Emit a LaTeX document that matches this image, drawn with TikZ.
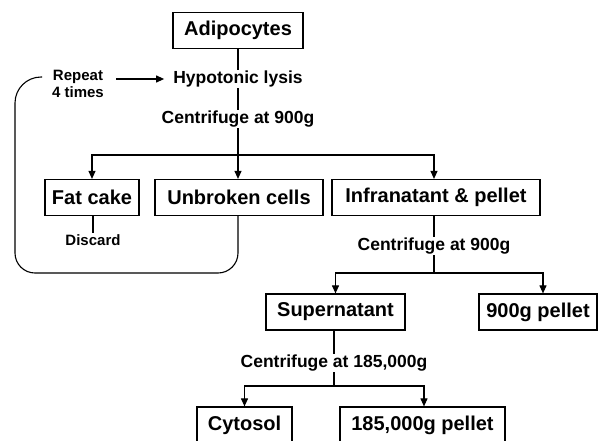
\documentclass[tikz,border=0pt]{standalone}
\usepackage{fontspec}
\setmainfont{Liberation Sans}
\usetikzlibrary{arrows.meta}

\begin{document}
\begin{tikzpicture}[x=1pt,y=-1pt,
    procbox/.style={draw,line width=1.2pt,minimum height=36pt,inner xsep=0pt,
      font=\fontsize{20}{24}\selectfont\bfseries},
    steplabel/.style={inner sep=1pt,font=\fontsize{17.5}{21}\selectfont\bfseries},
    smalllabel/.style={inner sep=1pt,align=center,font=\fontsize{15}{17}\selectfont\bfseries},
    flow/.style={line width=1.1pt},
    tip/.style={-{Triangle[length=8pt,width=7pt]}}]
    \useasboundingbox (0,0) rectangle (598,440);
    \clip (0,0) rectangle (598,440);
    % boxes
    \node[procbox,minimum width=130pt] (adipo) at (238,30.5) {Adipocytes};
    \node[procbox,minimum width=94pt] (fatcake) at (92,197.5) {Fat cake};
    \node[procbox,minimum width=168pt] (unbroken) at (239,197.5) {Unbroken cells};
    \node[procbox,minimum width=208pt] (infra) at (436,197.5) {Infranatant \& pellet};
    \node[procbox,minimum width=139pt] (super) at (335.5,312) {Supernatant};
    \node[procbox,minimum width=118pt] (p900) at (538,312) {900g pellet};
    \node[procbox,minimum width=95pt] (cytosol) at (244.5,425) {Cytosol};
    \node[procbox,minimum width=165pt] (p185) at (422.5,425) {185,000g pellet};
    % step labels
    \node[steplabel] (lysis) at (238,79) {Hypotonic lysis};
    \node[steplabel] (cent1) at (238,119) {Centrifuge at 900g};
    \node[steplabel] (cent2) at (434,246) {Centrifuge at 900g};
    \node[steplabel] (cent3) at (334,363) {Centrifuge at 185,000g};
    \node[smalllabel] (repeat) at (78,84) {Repeat\\4 times};
    \node[smalllabel] (discard) at (93,240) {Discard};
    % branch points
    \coordinate (split1) at (238,155);
    \coordinate (split2) at (434,273);
    \coordinate (split3) at (334,386);
    \coordinate (loopend) at (42,77);
    % connectors
    \draw[flow] (adipo) -- (lysis);
    \draw[flow] (lysis) -- (cent1);
    \draw[flow] (cent1) -- (split1);
    \draw[flow,tip] (split1) -| (fatcake.north);
    \draw[flow,tip] (split1) -- (split1 |- unbroken.north);
    \draw[flow,tip] (split1) -| (split2 |- infra.north);
    \draw[flow] (fatcake.south -| discard.north) -- (discard.north);
    \draw[flow] (split2 |- infra.south) -- (cent2);
    \draw[flow] (cent2) -- (split2);
    \draw[flow,tip] (split2) -| (super.north);
    \draw[flow,tip] (split2) -| ([xshift=5pt]p900.north);
    \draw[flow] (split3 |- super.south) -- (cent3);
    \draw[flow] (cent3) -- (split3);
    \draw[flow,tip] (split3) -| (cytosol.north);
    \draw[flow,tip] (split3) -| ([xshift=1.5pt]p185.north);
    % repeat loop
    \draw[flow,rounded corners=20pt] (split1 |- unbroken.south) -- (split1 |- 0,273)
      -- (15,273) [rounded corners=26pt] -- (15,77) -- (loopend);
    \draw[flow,tip,shorten <=11pt,shorten >=8pt] (repeat.east |- lysis.west) -- (lysis.west);
\end{tikzpicture}
\end{document}
